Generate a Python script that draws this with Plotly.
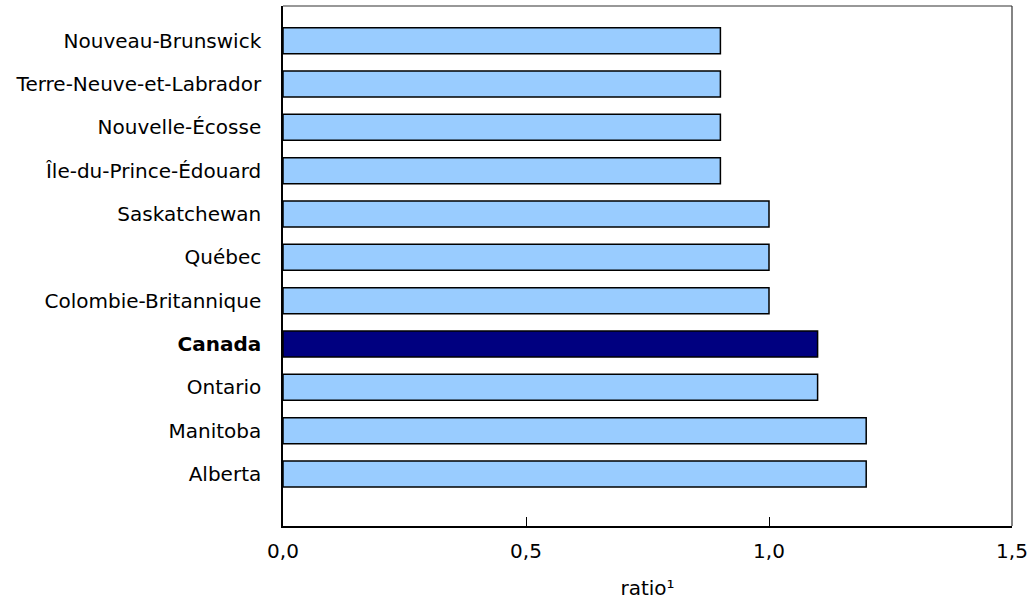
import plotly.graph_objects as go

categories = ["Alberta", "Manitoba", "Ontario", "Canada", "Colombie-Britannique",
              "Québec", "Saskatchewan", "Île-du-Prince-Édouard", "Nouvelle-Écosse",
              "Terre-Neuve-et-Labrador", "Nouveau-Brunswick"]
values = [1.2, 1.2, 1.1, 1.1, 1.0, 1.0, 1.0, 0.9, 0.9, 0.9, 0.9]
highlight = "Canada"
x_ticks = [0, 0.5, 1.0, 1.5]

colors = ["#000080" if c == highlight else "#99CCFF" for c in categories]
ticktext = ["<b>%s</b>" % c if c == highlight else c for c in categories]
pos = list(range(len(categories)))

font = "Verdana, DejaVu Sans, sans-serif"

fig = go.Figure(go.Bar(
    x=values, y=pos, orientation="h",
    marker=dict(color=colors, line=dict(color="black", width=1.5)),
    width=0.6, hoverinfo="x+y",
))

fig.update_layout(
    width=1031, height=600,
    margin=dict(l=283, r=19, t=6, b=74),
    plot_bgcolor="white", paper_bgcolor="white",
    separators=", ",
    showlegend=False,
    font=dict(family=font, size=20, color="black"),
    xaxis=dict(range=[0, 1.5], tickvals=x_ticks, tickformat=".1f",
               ticks="inside", ticklen=9, tickcolor="black", tickwidth=1.2,
               showline=True, linecolor="black", linewidth=1.5,
               showgrid=False, zeroline=False, ticklabelstandoff=6,
               automargin=False,
               title=dict(text="ratio¹", standoff=24, font=dict(size=20)),
               tickfont=dict(size=20)),
    yaxis=dict(range=[-1.2, 10.8], tickvals=pos, ticktext=ticktext,
               ticks="", showline=True, linecolor="black", linewidth=1.5,
               showgrid=False, zeroline=False, ticklabelstandoff=16,
               automargin=False,
               tickfont=dict(size=20)),
    shapes=[
        dict(type="line", xref="paper", yref="paper", x0=0, x1=1, y0=1, y1=1,
             line=dict(color="#333333", width=1.2)),
        dict(type="line", xref="paper", yref="paper", x0=1, x1=1, y0=0, y1=1,
             line=dict(color="#333333", width=1.2)),
    ],
)

fig.write_html("out.html", config={"displayModeBar": False},
               post_script="document.body.style.margin='0';")
